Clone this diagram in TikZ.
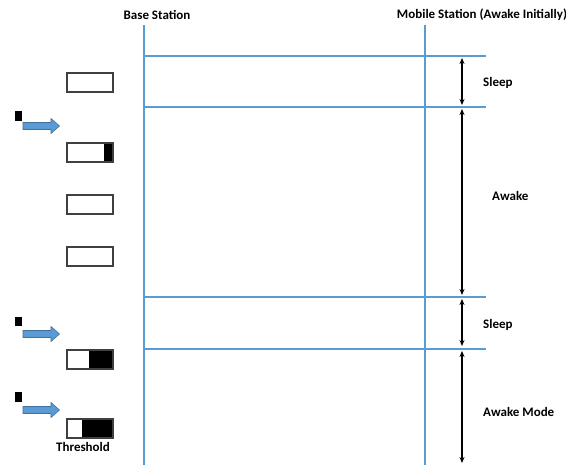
\documentclass[tikz,border=0pt]{standalone}
\usepackage{fontspec}
\setmainfont{Carlito}
\usetikzlibrary{arrows.meta}
\definecolor{lineblue}{RGB}{91,155,213}
\definecolor{arrowedge}{RGB}{65,113,156}
\tikzset{
  tl/.style={draw=lineblue, line width=2pt},
  dbl/.style={line width=1.3pt, {Stealth[length=6pt,width=5pt]}-{Stealth[length=6pt,width=5pt]}},
  lbl/.style={font=\bfseries\fontsize{13}{15}\selectfont, inner sep=0pt},
  bord/.style={draw=black!75, line width=1.3pt},
  pkt/.style={fill=black},
  barrow/.style={draw=arrowedge, fill=lineblue, line width=0.6pt, line join=miter}
}
\newcommand{\blockarrow}[1]{%
  \draw[barrow] (23,#1-3.5) -- (51,#1-3.5) -- (51,#1-7.5) -- (59.5,#1) -- (51,#1+7.5) -- (51,#1+3.5) -- (23,#1+3.5) -- cycle;}
\begin{document}
\begin{tikzpicture}[x=1pt,y=-1pt]
\useasboundingbox (0,0) rectangle (566,469);
% headers
\node[lbl] (bs) at (157,15) {Base Station};
\node[lbl] (ms) at (482,15) {Mobile Station (Awake Initially)};
% vertical lines
\coordinate (bt) at (144,25); \coordinate (bb) at (144,465);
\coordinate (mt) at (425,25); \coordinate (mb) at (425,465);
\draw[tl] (bt) -- (bb);
\draw[tl] (mt) -- (mb);
% horizontal lines
\foreach \y/\n in {56/h1,107/h2,297/h3,349/h4}{
  \coordinate (\n l) at (144,\y); \coordinate (\n r) at (486,\y);
  \draw[tl] (\n l) -- (\n r);
}
% double arrows
\coordinate (a1) at (462,58); \coordinate (a2) at (462,105);
\coordinate (a3) at (462,109); \coordinate (a4) at (462,295);
\coordinate (a5) at (462,299); \coordinate (a6) at (462,346);
\coordinate (a7) at (462,351); \coordinate (a8) at (462,463);
\draw[dbl] (a1) -- (a2);
\draw[dbl] (a3) -- (a4);
\draw[dbl] (a5) -- (a6);
\draw[dbl] (a7) -- (a8);
% labels
\node[lbl, anchor=west] (s1) at (483,83) {Sleep};
\node[lbl, anchor=west] (aw) at (492,196) {Awake};
\node[lbl, anchor=west] (s2) at (483,325) {Sleep};
\node[lbl, anchor=west] (am) at (483,412) {Awake Mode};
% buffers
\draw[bord, fill=white] (67,73) rectangle (113,92);
\fill[pkt] (104,143) rectangle (113,162);
\draw[bord] (67,143) rectangle (113,162);
\draw[bord, fill=white] (67,195) rectangle (113,214);
\draw[bord, fill=white] (67,247) rectangle (113,266);
\fill[pkt] (89,350) rectangle (113,369);
\draw[bord] (67,350) rectangle (113,369);
\fill[pkt] (82,419) rectangle (113,438);
\draw[bord] (67,419) rectangle (113,438);
\node[lbl] (th) at (83,447) {Threshold};
% packets
\fill[pkt] (15,111) rectangle (22,121);
\fill[pkt] (15,317) rectangle (22,326);
\fill[pkt] (15,392) rectangle (22,402);
% blue arrows
\blockarrow{126}
\blockarrow{334}
\blockarrow{410}
\end{tikzpicture}
\end{document}
